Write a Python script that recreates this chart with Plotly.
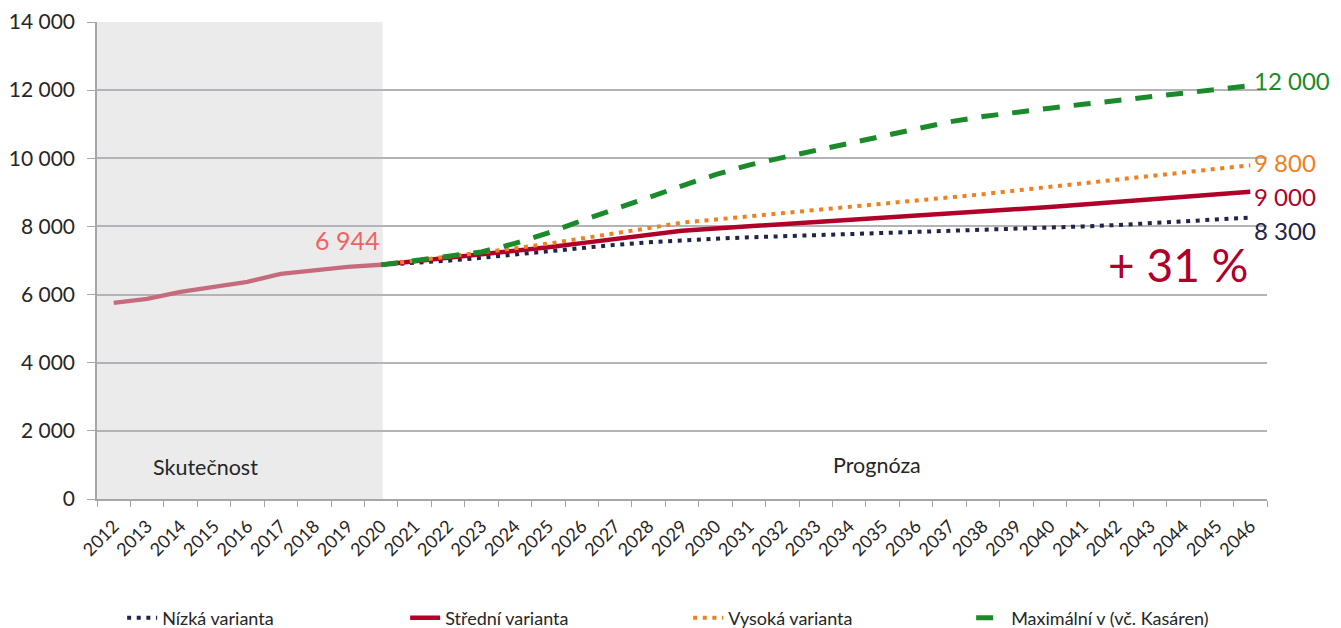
import plotly.graph_objects as go

years = [str(y) for y in range(2012, 2047)]

hist_years = [str(y) for y in range(2012, 2021)]
hist_values = [5756, 5874, 6079, 6226, 6373, 6608, 6725, 6813, 6872]

fc_years = [str(y) for y in range(2020, 2047)]
nizka = [6872, 6930, 6995, 7080, 7180, 7275, 7370, 7460, 7535, 7595, 7640, 7680, 7710,
         7740, 7770, 7800, 7830, 7860, 7890, 7925, 7960, 8000, 8040, 8090, 8140, 8200, 8260]
stredni = [6872, 6970, 7070, 7170, 7280, 7390, 7510, 7630, 7750, 7870, 7940, 8000, 8060,
           8120, 8180, 8240, 8300, 8360, 8430, 8500, 8570, 8645, 8720, 8795, 8870, 8945, 9020]
vysoka = [6872, 6990, 7110, 7230, 7360, 7495, 7640, 7790, 7950, 8110, 8200, 8290, 8380,
          8470, 8560, 8650, 8740, 8830, 8945, 9055, 9165, 9270, 9375, 9480, 9585, 9690, 9795]
maximalni = [6872, 6990, 7120, 7250, 7500, 7810, 8170, 8520, 8870, 9190, 9520, 9800, 10020,
             10230, 10450, 10670, 10860, 11070, 11225, 11360, 11470, 11585, 11700, 11800,
             11915, 12015, 12130]

series_names = ["Nízká varianta", "Střední varianta", "Vysoká varianta", "Maximální v (vč. Kasáren)"]
end_labels = ["8 300", "9 000", "9 800", "12 000"]
end_label_y = [7870, 8870, 9870, 12280]
last_actual_label = "6 944"
growth_label = "+ 31 %"

FONT = "Lato"
C_NAVY = "#1F2448"
C_RED = "#B0002A"
C_ORANGE = "#F07F1E"
C_GREEN = "#1A8A2A"
C_HIST = "#C66A7E"

idx_2020 = years.index("2020")
idx_2046 = years.index("2046")

fig = go.Figure()

fig.add_trace(go.Scatter(x=hist_years, y=hist_values, mode="lines",
                         line=dict(color=C_HIST, width=4.5), showlegend=False,
                         hoverinfo="skip"))

styles = [
    dict(color=C_NAVY, width=4, dash="4px,5.6px"),
    dict(color=C_RED, width=4.5),
    dict(color=C_ORANGE, width=4, dash="4px,5.6px"),
    dict(color=C_GREEN, width=5, dash="17px,14px"),
]
for name, vals, st in zip(series_names, [nizka, stredni, vysoka, maximalni], styles):
    fig.add_trace(go.Scatter(x=fc_years, y=vals, mode="lines", name=name, line=st))

# shaded "actual" region
fig.add_shape(type="rect", xref="x", yref="y", x0=-0.5, x1=idx_2020 + 0.05, y0=0, y1=14000,
              fillcolor="#EBEBEB", line=dict(width=0), layer="below")

label_colors = [C_NAVY, C_RED, C_ORANGE, C_GREEN]
for txt, yv, col in zip(end_labels, end_label_y, label_colors):
    fig.add_annotation(x=idx_2046, y=yv, text=txt, showarrow=False, xanchor="left",
                       yanchor="middle", xshift=2, font=dict(family=FONT, size=24, color=col))

fig.add_annotation(x=idx_2020, y=7606, text=last_actual_label, showarrow=False, xanchor="right",
                   yanchor="middle", font=dict(family=FONT, size=25, color="#F06262"))
fig.add_annotation(x=idx_2046, y=6870, text=growth_label, showarrow=False, xanchor="right",
                   yanchor="middle", font=dict(family=FONT, size=46, color=C_RED))
fig.add_annotation(x=2.76, y=940, text="Skutečnost", showarrow=False, xanchor="center",
                   yanchor="middle", font=dict(family=FONT, size=21.5, color="#262626"))
fig.add_annotation(x=22.83, y=1000, text="Prognóza", showarrow=False, xanchor="center",
                   yanchor="middle", font=dict(family=FONT, size=21.5, color="#262626"))

# the page body has an 8px margin, so the figure is offset by 8px
fig.update_layout(
    width=1333, height=620,
    margin=dict(l=89, r=74, t=14, b=129, autoexpand=False),
    paper_bgcolor="white", plot_bgcolor="white",
    separators=", ",
    font=dict(family=FONT, color="#262626"),
    showlegend=True,
    legend=dict(orientation="h", x=0.0215, xanchor="left", y=-0.2495, yanchor="middle",
                entrywidth=238, entrywidthmode="pixels",
                font=dict(family=FONT, size=18, color="#262626"),
                bgcolor="rgba(0,0,0,0)"),
)
fig.update_xaxes(type="category", categoryorder="array", categoryarray=years,
                 range=[-0.5, 34.5], tickson="boundaries", ticks="outside", ticklen=6,
                 tickcolor="#A6A6A6", showline=True, linecolor="#A6A6A6", linewidth=1.5,
                 showgrid=False, tickangle=-45, automargin=False, ticklabelstandoff=8,
                 tickfont=dict(family=FONT, size=18, color="#262626"))
fig.update_yaxes(range=[0, 14000], dtick=2000, tickformat=",d", ticks="outside", ticklen=8,
                 tickcolor="#A6A6A6", showline=True, linecolor="#A6A6A6", linewidth=1.5,
                 showgrid=True, gridcolor="#B4B4B8", gridwidth=1.5, zeroline=False,
                 automargin=False, ticklabelstandoff=8,
                 tickfont=dict(family=FONT, size=21, color="#262626"))

fig.write_html("out.html")
